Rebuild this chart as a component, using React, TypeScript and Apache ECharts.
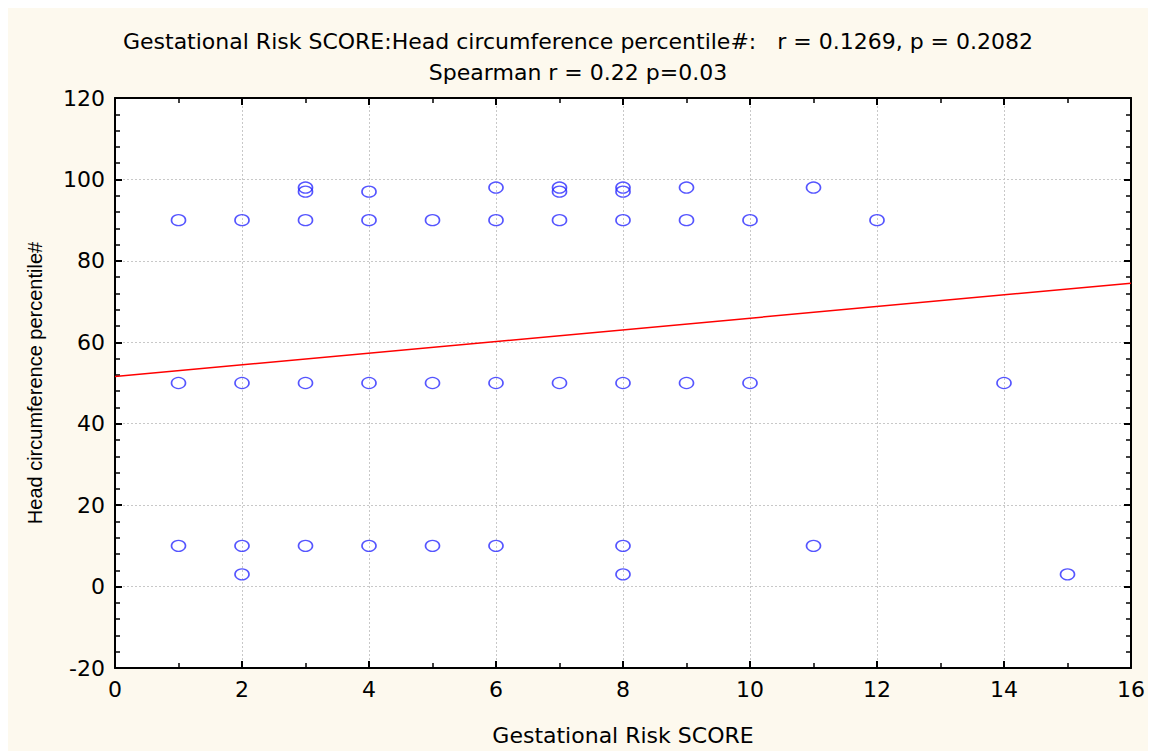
import React, { useEffect, useRef } from "react";
import * as echarts from "echarts";

const titleLine1 = "Gestational Risk SCORE:Head circumference percentile#:   r = 0.1269, p = 0.2082";
const titleLine2 = "Spearman r = 0.22 p=0.03";
const xName = "Gestational Risk SCORE";
const yName = "Head circumference percentile#";

const scoreX = [
  1, 1, 1,
  2, 2, 2, 2,
  3, 3, 3, 3, 3,
  4, 4, 4, 4,
  5, 5, 5,
  6, 6, 6, 6,
  7, 7, 7, 7,
  8, 8, 8, 8, 8, 8,
  9, 9, 9,
  10, 10,
  11, 11,
  12,
  14,
  15,
];
const headY = [
  90, 50, 10,
  90, 50, 10, 3,
  98, 97, 90, 50, 10,
  97, 90, 50, 10,
  90, 50, 10,
  98, 90, 50, 10,
  98, 97, 90, 50,
  98, 97, 90, 50, 10, 3,
  98, 90, 50,
  90, 50,
  98, 10,
  90,
  50,
  3,
];
const fitX = [0, 16];
const fitY = [51.6, 74.5];

export default function App() {
  const ref = useRef<HTMLDivElement>(null);
  useEffect(() => {
    if (!ref.current) return;
    const chart = echarts.init(ref.current, undefined, { renderer: "svg" });
    const font = "'DejaVu Sans', sans-serif";
    const font2 = "'Liberation Sans', Arial, sans-serif";
    const points = scoreX.map((x, i) => [x, headY[i]]);
    const line = fitX.map((x, i) => [x, fitY[i]]);
    const baseAxis = {
      axisLine: { show: true, onZero: false, lineStyle: { color: "#000", width: 2 } },
      axisTick: { show: true, inside: true, length: 7, lineStyle: { color: "#000", width: 2 } },
      minorTick: { show: true, length: 5, lineStyle: { color: "#000", width: 1.5 } },
    };
    chart.setOption({
      animation: false,
      backgroundColor: "#fdf9ee",
      title: [
        { text: titleLine1, left: "center", top: 17, textStyle: { fontFamily: font, fontSize: 22, fontWeight: "normal", color: "#000" } },
        { text: titleLine2, left: "center", top: 48, textStyle: { fontFamily: font, fontSize: 22, fontWeight: "normal", color: "#000" } },
      ],
      grid: { left: 107, top: 90, width: 1020, height: 575, show: true, backgroundColor: "#fff", borderWidth: 0 },
      xAxis: [
        {
          ...baseAxis,
          type: "value", min: 0, max: 16, interval: 2, position: "bottom",
          minorTick: { ...baseAxis.minorTick, splitNumber: 2 },
          axisLabel: { fontFamily: font, fontSize: 22, color: "#000", margin: 10 },
          splitLine: { show: true, lineStyle: { color: "#c8c8c8", type: [2, 2], width: 1 } },
          name: xName, nameLocation: "middle", nameGap: 56,
          nameTextStyle: { fontFamily: font, fontSize: 22, color: "#000" },
        },
        {
          ...baseAxis,
          type: "value", min: 0, max: 16, interval: 2, position: "top",
          minorTick: { ...baseAxis.minorTick, splitNumber: 2 },
          axisLabel: { show: false }, splitLine: { show: false },
        },
      ],
      yAxis: [
        {
          ...baseAxis,
          type: "value", min: -20, max: 120, interval: 20, position: "left",
          minorTick: { ...baseAxis.minorTick, splitNumber: 5 },
          axisLabel: { fontFamily: font, fontSize: 22, color: "#000", margin: 10 },
          splitLine: { show: true, lineStyle: { color: "#c8c8c8", type: [2, 2], width: 1 } },
          name: yName, nameLocation: "middle", nameGap: 70, nameRotate: 90,
          nameTextStyle: { fontFamily: font2, fontSize: 20, color: "#000" },
        },
        {
          ...baseAxis,
          type: "value", min: -20, max: 120, interval: 20, position: "right",
          minorTick: { ...baseAxis.minorTick, splitNumber: 5 },
          axisLabel: { show: false }, splitLine: { show: false },
        },
      ],
      series: [
        {
          type: "scatter", data: points, xAxisIndex: 0, yAxisIndex: 0,
          symbol: "circle", symbolSize: [14, 11],
          itemStyle: { color: "rgba(0,0,0,0)", borderColor: "#2a2aff", borderWidth: 1.5 },
          z: 3,
        },
        {
          type: "line", data: line, xAxisIndex: 0, yAxisIndex: 0,
          showSymbol: false, symbol: "none",
          lineStyle: { color: "#ff0000", width: 1.5 },
          z: 2,
        },
      ],
    });
    return () => chart.dispose();
  }, []);
  return <div ref={ref} style={{ position: "absolute", left: 8, top: 8, width: 1140, height: 743 }} />;
}
